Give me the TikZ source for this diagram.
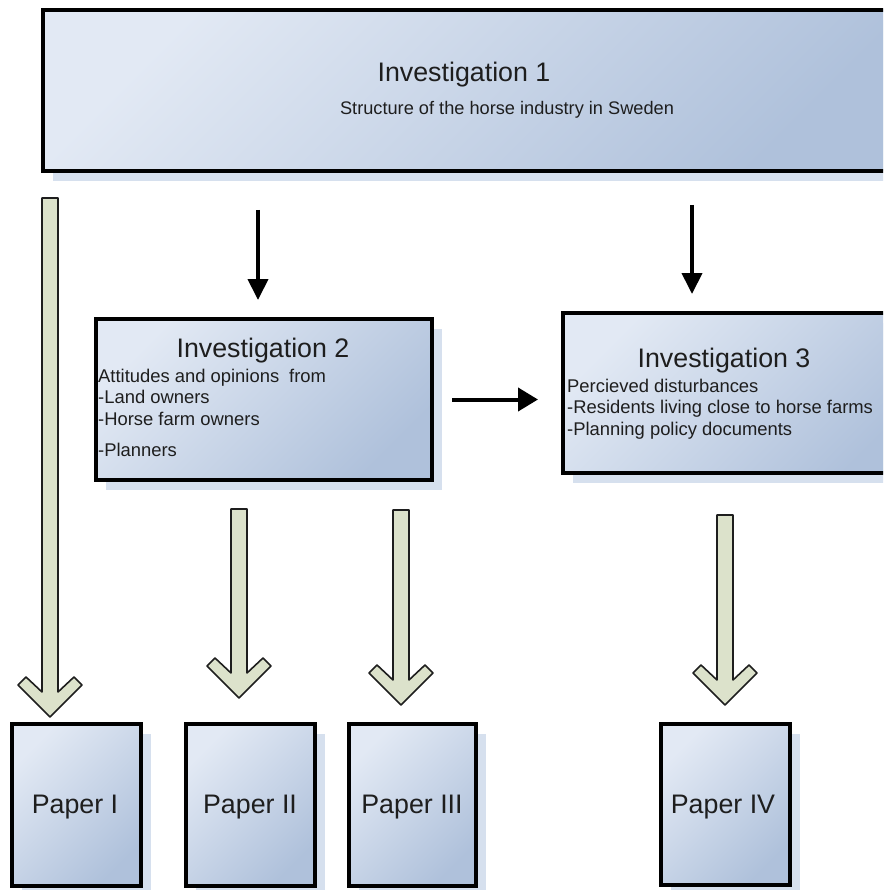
\documentclass[tikz,border=0pt]{standalone}
\usepackage{fontspec}
\setmainfont{Liberation Sans}
\usetikzlibrary{arrows.meta,shadows}

\definecolor{boxlight}{HTML}{E2E9F4}
\definecolor{boxdark}{HTML}{AFC1DB}
\definecolor{shadowblue}{HTML}{D6E0EE}
\definecolor{sage}{HTML}{DCE2CB}
\definecolor{ink}{HTML}{1E1E1E}

% block arrow pointing down: centre x, top of shaft, tip
\newcommand\fatdown[3]{%
  \draw[fatarrow]
    ({#1-8},#2) -- ({#1-8},{#3-25}) -- ({#1-24},{#3-40}) -- ({#1-32},{#3-32})
    -- (#1,#3) -- ({#1+32},{#3-32}) -- ({#1+24},{#3-40}) -- ({#1+8},{#3-25})
    -- ({#1+8},#2) -- cycle;}

\tikzset{
  box/.style={draw=black, line width=4pt, inner sep=0pt,
    top color=boxlight, bottom color=boxdark, shading angle=45,
    general shadow={fill=shadowblue, shadow xshift=10pt, shadow yshift=-10pt}},
  title/.style={font=\fontsize{26.8}{30}\selectfont, text=ink, inner sep=0pt, anchor=base},
  body/.style={font=\fontsize{18.4}{21}\selectfont, text=ink, inner sep=0pt, anchor=base west},
  sub/.style={font=\fontsize{18.2}{21}\selectfont, text=ink, inner sep=0pt, anchor=base},
  blk/.style={line width=4pt, -{Triangle[length=21pt,width=20pt]}},
  fatarrow/.style={draw=ink, line width=1.6pt, fill=sage, line join=round},
}

\begin{document}
\begin{tikzpicture}[x=1pt, y=-1pt]
  \clip (0,0) rectangle (883,890);

  % investigation boxes
  \node[box, minimum width=857pt, minimum height=161pt] (inv1) at (471.5,90.5) {};
  \node[box, minimum width=336pt, minimum height=161pt] (inv2) at (264,399.5) {};
  \node[box, minimum width=357pt, minimum height=160pt] (inv3) at (741.5,393) {};

  % paper boxes
  \node[box, minimum width=129pt, minimum height=162pt] (p1) at (76.5,805) {};
  \node[box, minimum width=129pt, minimum height=162pt] (p2) at (250.5,805) {};
  \node[box, minimum width=127pt, minimum height=162pt] (p3) at (412.5,805) {};
  \node[box, minimum width=129pt, minimum height=161pt] (p4) at (725.5,804.5) {};

  % texts
  \node[title] (t1) at (464,82) {Investigation 1};
  \node[sub] (s1) at (507,115) {Structure of the horse industry in Sweden};

  \node[title] (t2) at (263,357) {Investigation 2};
  \node[body] (l21) at (98,382) {Attitudes and opinions\hspace{10pt}from};
  \node[body] (l22) at (98,403) {-Land owners};
  \node[body] (l23) at (98,425) {-Horse farm owners};
  \node[body] (l24) at (98,456) {-Planners};

  \node[title] (t3) at (724,367) {Investigation 3};
  \node[body] (l31) at (567,392) {Percieved disturbances};
  \node[body] (l32) at (567,413) {-Residents living close to horse farms};
  \node[body] (l33) at (567,435) {-Planning policy documents};

  \node[title] (q1) at (75,813) {Paper I};
  \node[title] (q2) at (250,813) {Paper II};
  \node[title] (q3) at (412,813) {Paper III};
  \node[title] (q4) at (723,813) {Paper IV};

  % flow between investigations
  \coordinate (k1) at (258,0);
  \coordinate (k3) at (692,0);
  \draw[blk, shorten <=37pt, shorten >=17pt] (inv1.south -| k1) -- (inv2.north -| k1);
  \draw[blk, shorten <=32pt, shorten >=17pt] (inv1.south -| k3) -- (inv3.north -| k3);
  \draw[blk, -{Triangle[length=20pt,width=23pt]}, shorten <=18pt, shorten >=23pt]
    (inv2.east) -- (inv2.east -| inv3.west);

  % investigations to papers
  \fatdown{50}{198}{717}
  \fatdown{239}{509}{698}
  \fatdown{401}{510}{705}
  \fatdown{725}{515}{705}
\end{tikzpicture}
\end{document}
